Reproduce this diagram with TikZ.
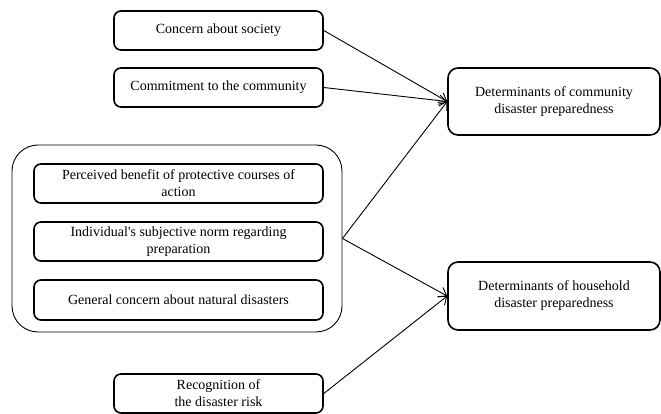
\documentclass[tikz,border=0pt]{standalone}
\usepackage{fontspec}
\setmainfont{Liberation Serif}[Ligatures=TeXOff]
\usetikzlibrary{arrows.meta}
\begin{document}
\begin{tikzpicture}[x=1pt,y=-1pt,
  factor/.style={draw, line width=1.6pt, rounded corners=7pt, inner sep=0pt,
    align=center, font=\fontsize{14}{17}\selectfont},
  group/.style={draw, line width=0.9pt, rounded corners=26pt, inner sep=0pt},
  link/.style={line width=0.9pt, -{Straight Barb[length=7pt,width=11pt]}}]
\useasboundingbox (0,0) rectangle (661,414);

% left-hand factors
\node[factor, minimum width=209pt, minimum height=39pt] (soc) at (218.5,30.5) {Concern about society};
\node[factor, minimum width=209pt, minimum height=39pt] (com) at (218.5,87.5) {Commitment to the community};

% grouped individual factors
\node[group, minimum width=330pt, minimum height=187pt] (grp) at (177,238.5) {};
\node[factor, minimum width=289pt, minimum height=39pt] (ben) at (178.5,183.5) {Perceived benefit of protective courses of\\action};
\node[factor, minimum width=289pt, minimum height=39pt] (nrm) at (178.5,241.5) {Individual's subjective norm regarding\\preparation};
\node[factor, minimum width=289pt, minimum height=40pt] (gen) at (178.5,300) {General concern about natural disasters};

\node[factor, minimum width=209pt, minimum height=39pt] (rec) at (218.5,393.5) {Recognition of\\the disaster risk};

% outcomes
\node[factor, minimum width=212pt, minimum height=67pt, rounded corners=10pt] (cdp) at (554,101.5) {Determinants of community\\disaster preparedness};
\node[factor, minimum width=212pt, minimum height=68pt, rounded corners=10pt] (hdp) at (554,296) {Determinants of household\\disaster preparedness};

% connectors
\draw[link] (soc.east) -- (cdp.west);
\draw[link] (com.east) -- (cdp.west);
\draw[link] (grp.east) -- (cdp.west);
\draw[link] (grp.east) -- (hdp.west);
\draw[link] (rec.east) -- (hdp.west);
\end{tikzpicture}
\end{document}
